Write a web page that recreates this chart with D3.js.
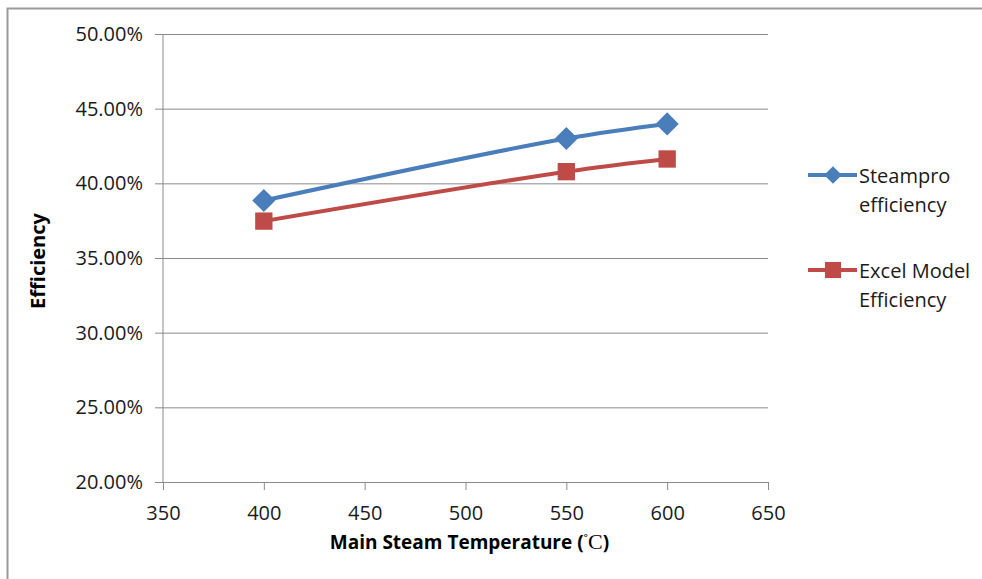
<!DOCTYPE html>
<html>
<head>
<meta charset="utf-8">
<script src="https://cdn.jsdelivr.net/npm/d3@7"></script>
<style>
  html, body { margin: 0; padding: 0; background: #fff; }
  svg { display: block; font-family: "Open Sans", sans-serif; }
</style>
</head>
<body>
<div id="chart"></div>
<script>
// data
const temperatures = [400, 550, 600];
const steamproEfficiency = [0.3885, 0.4300, 0.4398];
const excelModelEfficiency = [0.3747, 0.4078, 0.4163];
const seriesNames = ["Steampro efficiency", "Excel Model Efficiency"];
const xTicks = [350, 400, 450, 500, 550, 600, 650];
const yTicks = [0.20, 0.25, 0.30, 0.35, 0.40, 0.45, 0.50];

const width = 982, height = 579;
const margin = { top: 34, right: 214, bottom: 97, left: 163 };
const plotW = width - margin.left - margin.right,
      plotH = height - margin.top - margin.bottom;

const blue = "#4a7ebb", red = "#be4b48", grid = "#8a8a8a";

const svg = d3.select("#chart").append("svg")
    .attr("width", width)
    .attr("height", height);

// outer frame (only top and left edges visible)
svg.append("path")
    .attr("d", `M7.5,${height} V8.5 H${width}`)
    .attr("fill", "none")
    .attr("stroke", "#9a9a9a")
    .attr("stroke-width", 2);

const x = d3.scaleLinear().domain([350, 650]).range([0, plotW]);
const y = d3.scaleLinear().domain([0.20, 0.50]).range([plotH, 0]);

const g = svg.append("g")
    .attr("transform", `translate(${margin.left}, ${margin.top})`);

// gridlines + y axis
const yAxis = g.append("g")
    .call(d3.axisLeft(y).tickValues(yTicks).tickSize(8).tickPadding(12)
        .tickFormat(d3.format(".2%")));
yAxis.select(".domain").remove();
yAxis.selectAll(".tick line").attr("x2", plotW).attr("x1", -8).attr("stroke", grid);
yAxis.selectAll(".tick text")
    .attr("font-size", 20).attr("fill", "#1a1a1a")
    .attr("font-family", "Open Sans");

g.append("line")
    .attr("x1", 0).attr("x2", 0).attr("y1", 0).attr("y2", plotH)
    .attr("stroke", grid);

const xAxis = g.append("g")
    .attr("transform", `translate(0, ${plotH})`)
    .call(d3.axisBottom(x).tickValues(xTicks).tickSize(8).tickPadding(16));
xAxis.select(".domain").attr("stroke", grid);
xAxis.selectAll(".tick line").attr("stroke", grid);
xAxis.selectAll(".tick text")
    .attr("font-size", 20).attr("fill", "#1a1a1a")
    .attr("font-family", "Open Sans");

// axis titles
svg.append("text")
    .attr("transform", `translate(45, 261) rotate(-90)`)
    .attr("text-anchor", "middle")
    .attr("font-size", 20)
    .attr("font-weight", "bold")
    .text("Efficiency");

const xt = svg.append("text")
    .attr("x", margin.left + plotW / 2 + 4)
    .attr("y", 549)
    .attr("text-anchor", "middle")
    .attr("font-size", 19)
    .attr("font-weight", "bold");
xt.append("tspan").text("Main Steam Temperature (");
xt.append("tspan").attr("font-weight", "normal").attr("font-size", 15).attr("dy", -3).text("˚");
xt.append("tspan").attr("font-family", "Liberation Serif, serif").attr("font-weight", "normal")
    .attr("font-size", 22).attr("dy", 3).text("C");
xt.append("tspan").text(")");

// series lines
const line = d3.line()
    .x(d => x(d[0]))
    .y(d => y(d[1]))
    .curve(d3.curveCatmullRom.alpha(0.5));

const series = [
    { name: seriesNames[0], color: blue, shape: d3.symbolDiamond2, values: steamproEfficiency },
    { name: seriesNames[1], color: red, shape: d3.symbolSquare, values: excelModelEfficiency }
];

series.forEach(s => {
    const pts = temperatures.map((t, i) => [t, s.values[i]]);
    g.append("path")
        .datum(pts)
        .attr("fill", "none")
        .attr("stroke", s.color)
        .attr("stroke-width", 4)
        .attr("stroke-linejoin", "round")
        .attr("d", line);
    g.selectAll(null)
        .data(pts)
        .enter().append("path")
        .attr("transform", d => `translate(${x(d[0])}, ${y(d[1])})`)
        .attr("d", d3.symbol().type(s.shape).size(s.shape === d3.symbolSquare ? 300 : 340))
        .attr("fill", s.color);
});

// legend
const legend = svg.append("g").attr("transform", "translate(808, 0)");
const legendY = [175, 270];
series.forEach((s, i) => {
    const lg = legend.append("g").attr("transform", `translate(0, ${legendY[i]})`);
    lg.append("line")
        .attr("x1", 0).attr("x2", 49)
        .attr("stroke", s.color).attr("stroke-width", 4);
    lg.append("path")
        .attr("transform", "translate(25, 0)")
        .attr("d", d3.symbol().type(s.shape).size(s.shape === d3.symbolSquare ? 260 : 200))
        .attr("fill", s.color);
    const words = s.name.split(" ");
    const lines = i === 0 ? [words[0], words[1]] : [words.slice(0, 2).join(" "), words[2]];
    const tx = lg.append("text")
        .attr("x", 51)
        .attr("y", 8)
        .attr("font-size", 20)
        .attr("fill", "#1a1a1a");
    lines.forEach((l, j) => {
        tx.append("tspan").attr("x", 51).attr("dy", j === 0 ? 0 : 29).text(l);
    });
});
</script>
</body>
</html>
